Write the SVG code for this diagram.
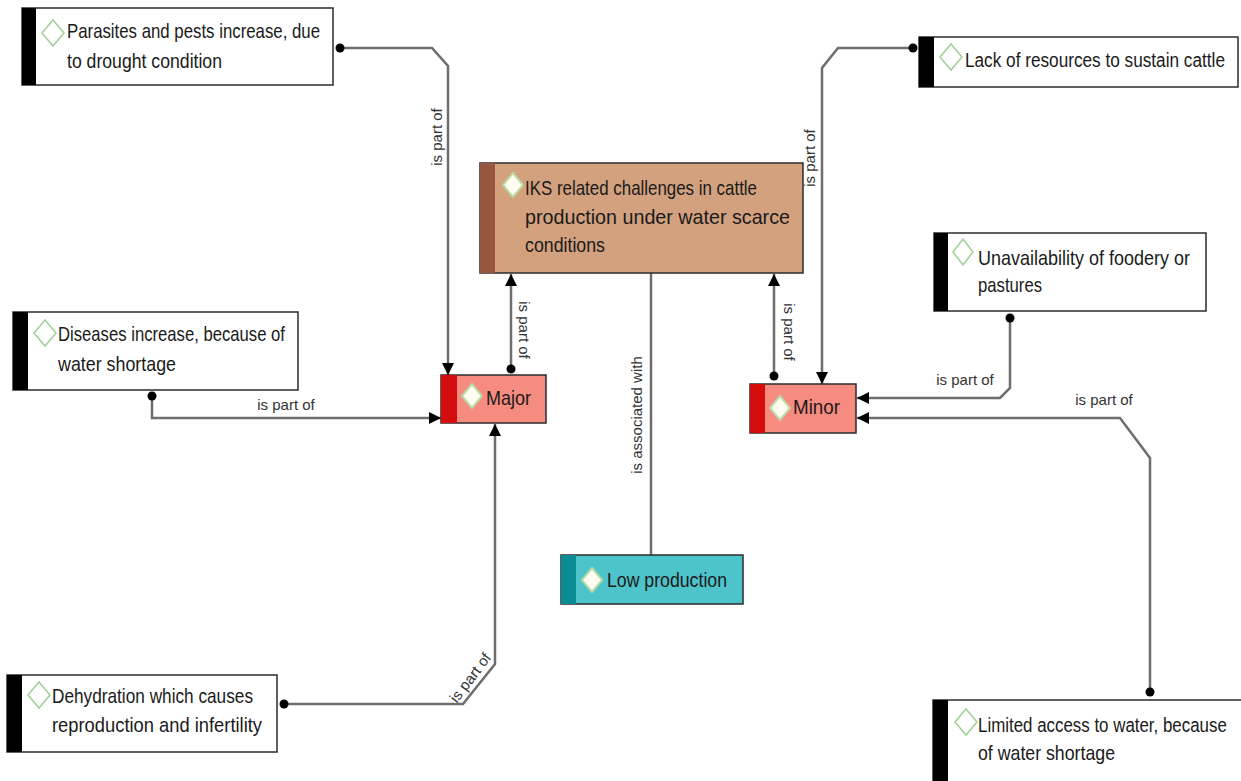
<svg xmlns="http://www.w3.org/2000/svg" width="1241" height="781" viewBox="0 0 1241 781">
<style>
.box{stroke:#2b2b2b;stroke-width:1.5}
.w{fill:#ffffff}
.bar{fill:#000000}
.t{font-family:"Liberation Sans",Arial,sans-serif;font-size:21px;fill:#1a1a1a}
.lbl{font-family:"Liberation Sans",Arial,sans-serif;font-size:15px;fill:#333333}
.dw{fill:#ffffff;stroke:#9fd096;stroke-width:1.5}
.dc{fill:#fffdf0;stroke:#b9d9a6;stroke-width:2}
.c{fill:none;stroke:#6e6e6e;stroke-width:2.5}
</style>
<defs>
<marker id="arr" viewBox="0 0 12 12" refX="12" refY="6" markerWidth="12" markerHeight="12" markerUnits="userSpaceOnUse" orient="auto">
<path d="M0,0 L12,6 L0,12 z" fill="#000"/>
</marker>
<marker id="dot" viewBox="0 0 10 10" refX="5" refY="5" markerWidth="10" markerHeight="10" markerUnits="userSpaceOnUse">
<circle cx="5" cy="5" r="4.5" fill="#000"/>
</marker>
</defs>
<rect width="1241" height="781" fill="#ffffff"/>

<g id="connectors">
<path class="c" d="M340,48 H432 L448,66 V375" marker-start="url(#dot)" marker-end="url(#arr)"/>
<path class="c" d="M511,369 V274" marker-start="url(#dot)" marker-end="url(#arr)"/>
<path class="c" d="M152,396 V418 H441" marker-start="url(#dot)" marker-end="url(#arr)"/>
<path class="c" d="M284,704 H463 L495,664 V424" marker-start="url(#dot)" marker-end="url(#arr)"/>
<path class="c" d="M651,273 V555"/>
<path class="c" d="M774,376 V274" marker-start="url(#dot)" marker-end="url(#arr)"/>
<path class="c" d="M913,48 H838 L822,68 V384" marker-start="url(#dot)" marker-end="url(#arr)"/>
<path class="c" d="M1010,318 V388 L1000,398 H857" marker-start="url(#dot)" marker-end="url(#arr)"/>
<path class="c" d="M1150,692 V458 L1120,418 H857" marker-start="url(#dot)" marker-end="url(#arr)"/>
<text class="lbl" text-anchor="middle" transform="translate(442,137) rotate(-90)">is part of</text>
<text class="lbl" text-anchor="middle" transform="translate(519,330) rotate(90)">is part of</text>
<text class="lbl" text-anchor="middle" x="286" y="410">is part of</text>
<text class="lbl" text-anchor="middle" transform="translate(476,682) rotate(-53)" y="-2">is part of</text>
<text class="lbl" text-anchor="middle" transform="translate(642,415) rotate(-90)">is associated with</text>
<text class="lbl" text-anchor="middle" transform="translate(784,332) rotate(90)">is part of</text>
<text class="lbl" text-anchor="middle" transform="translate(815,158) rotate(-90)">is part of</text>
<text class="lbl" text-anchor="middle" x="965" y="385">is part of</text>
<text class="lbl" text-anchor="middle" x="1104" y="405">is part of</text>
</g>

<g id="n-parasites">
<rect class="box w" x="22" y="8" width="311" height="77"/>
<rect class="bar" x="22" y="8" width="14" height="77"/>
<path class="dw" d="M53,20 L64,33 L53,46 L42,33 z"/>
<text class="t" x="67" y="38" textLength="253" lengthAdjust="spacingAndGlyphs">Parasites and pests increase, due</text>
<text class="t" x="67" y="68" textLength="155" lengthAdjust="spacingAndGlyphs">to drought condition</text>
</g>

<g id="n-lack">
<rect class="box w" x="919" y="37" width="319" height="50"/>
<rect class="bar" x="919" y="37" width="15" height="50"/>
<path class="dw" d="M951,44 L962,57 L951,70 L940,57 z"/>
<text class="t" transform="translate(965,67) scale(0.819,1)">Lack of resources to sustain cattle</text>
</g>

<g id="n-iks">
<rect class="box" x="480" y="163" width="323" height="110" fill="#d3a17e"/>
<rect x="480" y="163" width="15" height="110" fill="#98553f"/>
<path class="dc" d="M513,173 L523,185 L513,197 L503,185 z"/>
<text class="t" x="525" y="195" textLength="232" lengthAdjust="spacingAndGlyphs">IKS related challenges in cattle</text>
<text class="t" x="525" y="224" textLength="265" lengthAdjust="spacingAndGlyphs">production under water scarce</text>
<text class="t" x="525" y="252" textLength="80" lengthAdjust="spacingAndGlyphs">conditions</text>
</g>

<g id="n-diseases">
<rect class="box w" x="13" y="312" width="285" height="78"/>
<rect class="bar" x="13" y="312" width="15" height="78"/>
<path class="dw" d="M45,320 L56,333 L45,346 L34,333 z"/>
<text class="t" x="58" y="341" textLength="227" lengthAdjust="spacingAndGlyphs">Diseases increase, because of</text>
<text class="t" x="58" y="371" textLength="118" lengthAdjust="spacingAndGlyphs">water shortage</text>
</g>

<g id="n-major">
<rect class="box" x="441" y="375" width="105" height="48" fill="#f68b80"/>
<rect x="441" y="375" width="16" height="48" fill="#d40c0c"/>
<path class="dc" d="M472,384 L482,396 L472,408 L462,396 z"/>
<text class="t" x="486" y="405" textLength="45" lengthAdjust="spacingAndGlyphs">Major</text>
</g>

<g id="n-unavail">
<rect class="box w" x="934" y="233" width="272" height="78"/>
<rect class="bar" x="934" y="233" width="14" height="78"/>
<path class="dw" d="M963,239 L973,252 L963,265 L953,252 z"/>
<text class="t" x="978" y="265" textLength="212" lengthAdjust="spacingAndGlyphs">Unavailability of foodery or</text>
<text class="t" x="978" y="292" textLength="64" lengthAdjust="spacingAndGlyphs">pastures</text>
</g>

<g id="n-minor">
<rect class="box" x="750" y="384" width="106" height="49" fill="#f68b80"/>
<rect x="750" y="384" width="15" height="49" fill="#d40c0c"/>
<path class="dc" d="M780,396 L790,408 L780,420 L770,408 z"/>
<text class="t" x="793" y="414" textLength="47" lengthAdjust="spacingAndGlyphs">Minor</text>
</g>

<g id="n-low">
<rect class="box" x="561" y="555" width="182" height="49" fill="#4dc3ca"/>
<rect x="561" y="555" width="15" height="49" fill="#0b8c95"/>
<path class="dc" d="M592,568 L602,580 L592,592 L582,580 z"/>
<text class="t" x="607" y="587" textLength="120" lengthAdjust="spacingAndGlyphs">Low production</text>
</g>

<g id="n-dehydration">
<rect class="box w" x="7" y="675" width="270" height="77"/>
<rect class="bar" x="7" y="675" width="15" height="77"/>
<path class="dw" d="M39,682 L50,695 L39,708 L28,695 z"/>
<text class="t" x="52" y="703" textLength="201" lengthAdjust="spacingAndGlyphs">Dehydration which causes</text>
<text class="t" x="52" y="732" textLength="210" lengthAdjust="spacingAndGlyphs">reproduction and infertility</text>
</g>

<g id="n-limited">
<rect class="box w" x="933" y="700" width="320" height="95"/>
<rect class="bar" x="933" y="700" width="15" height="95"/>
<path class="dw" d="M966,709 L977,722 L966,735 L955,722 z"/>
<text class="t" transform="translate(978,732) scale(0.805,1)">Limited access to water, because</text>
<text class="t" x="978" y="760" textLength="137" lengthAdjust="spacingAndGlyphs">of water shortage</text>
</g>
</svg>
